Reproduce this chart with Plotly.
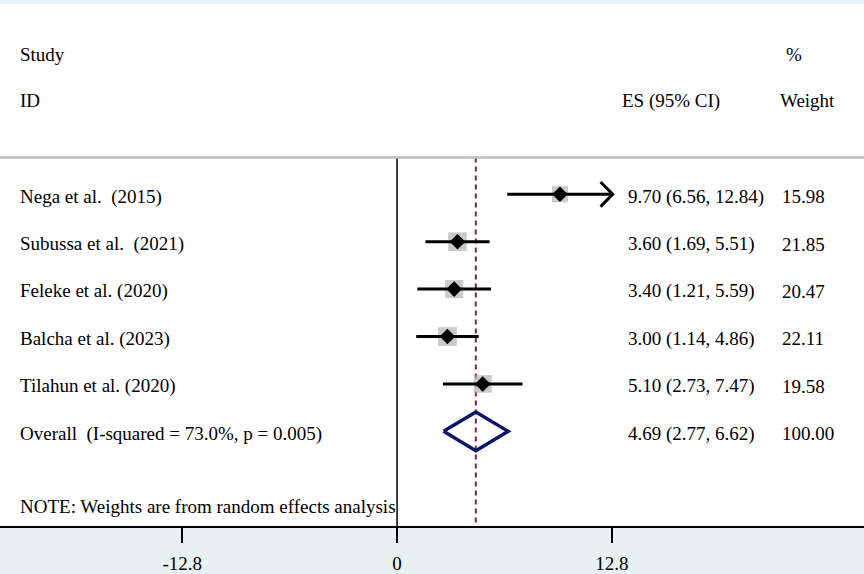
import plotly.graph_objects as go
import math

studies = ["Nega et al.&nbsp; (2015)", "Subussa et al.&nbsp; (2021)", "Feleke et al. (2020)",
           "Balcha et al. (2023)", "Tilahun et al. (2020)"]
es = [9.70, 3.60, 3.40, 3.00, 5.10]
lo = [6.56, 1.69, 1.21, 1.14, 2.73]
hi = [12.84, 5.51, 5.59, 4.86, 7.47]
weights = [15.98, 21.85, 20.47, 22.11, 19.58]
overall_es, overall_lo, overall_hi = 4.69, 2.77, 6.62
overall_label = "Overall&nbsp; (I-squared = 73.0%, p = 0.005)"
note = "NOTE: Weights are from random effects analysis"
tick_vals = [-12.8, 0, 12.8]
tick_text = ["-12.8", "0", "12.8"]

FONT = "Liberation Serif, Times New Roman, serif"
rows = list(range(len(studies)))
overall_row = len(studies)
y_sep = -0.777
y_bottom = 6.996

fig = go.Figure()

# separator line
fig.add_shape(type="line", xref="paper", yref="y", x0=0, x1=1, y0=y_sep, y1=y_sep,
              line=dict(color="#bdbdbd", width=2.5))

# null line and overall line
fig.add_trace(go.Scatter(x=[0, 0], y=[y_sep, y_bottom], mode="lines",
                         line=dict(color="black", width=1.5), hoverinfo="skip", showlegend=False))
fig.add_trace(go.Scatter(x=[overall_es, overall_es], y=[y_sep, y_bottom], mode="lines",
                         line=dict(color="#8b2035", width=2, dash="5px,4px"), hoverinfo="skip", showlegend=False))

# weight boxes
fig.add_trace(go.Scatter(x=es, y=rows, mode="markers",
                         marker=dict(symbol="square", size=[4.0 * math.sqrt(w) for w in weights],
                                     color="#b4b4b4", line=dict(width=0)),
                         hoverinfo="skip", showlegend=False))

# CI lines
for i in rows:
    fig.add_trace(go.Scatter(x=[lo[i], hi[i]], y=[i, i], mode="lines",
                             line=dict(color="black", width=3), hoverinfo="skip", showlegend=False))
    if hi[i] >= 12.8:
        fig.add_trace(go.Scatter(x=[hi[i] - 0.72, hi[i], hi[i] - 0.72], y=[i - 0.26, i, i + 0.26],
                                 mode="lines", line=dict(color="black", width=3),
                                 hoverinfo="skip", showlegend=False))

# point estimates
fig.add_trace(go.Scatter(x=es, y=rows, mode="markers",
                         marker=dict(symbol="diamond", size=12, color="black"),
                         hoverinfo="skip", showlegend=False))

# overall diamond
fig.add_trace(go.Scatter(x=[overall_lo, overall_es, overall_hi, overall_es, overall_lo],
                         y=[overall_row, overall_row - 0.41, overall_row, overall_row + 0.41, overall_row],
                         mode="lines", line=dict(color="#0c1466", width=3.5),
                         hoverinfo="skip", showlegend=False))

x_lab = -22.55
x_es = 13.65
x_w = 22.8

def txt(x, y, s):
    fig.add_annotation(x=x, y=y, xref="x", yref="y", text=s, showarrow=False,
                       xanchor="left", yanchor="middle",
                       font=dict(family=FONT, size=19, color="black"))

txt(x_lab, -2.94, "Study")
txt(x_lab, -1.975, "ID")
txt(13.3, -1.975, "ES (95% CI)")
txt(x_w + 0.25, -2.94, "%")
txt(x_w - 0.1, -1.975, "Weight")

for i in rows:
    txt(x_lab, i + 0.05, studies[i])
    txt(x_es, i + 0.05, f"{es[i]:.2f} ({lo[i]:.2f}, {hi[i]:.2f})")
    txt(x_w, i + 0.05, f"{weights[i]:.2f}")

txt(x_lab, overall_row + 0.05, overall_label)
txt(x_es, overall_row + 0.05, f"{overall_es:.2f} ({overall_lo:.2f}, {overall_hi:.2f})")
txt(x_w, overall_row + 0.05, "100.00")
txt(x_lab, 6.575, note)

fig.update_layout(
    width=864, height=574,
    margin=dict(l=0, r=0, t=4, b=46),
    paper_bgcolor="#e8f0f2",
    plot_bgcolor="white",
    showlegend=False,
    xaxis=dict(range=[-23.65, 27.81], showgrid=False, zeroline=False,
               tickvals=tick_vals, ticktext=tick_text, ticks="outside", ticklen=15,
               tickwidth=2, tickcolor="black", showline=True, linecolor="black", linewidth=2,
               tickfont=dict(family=FONT, size=19, color="black"), ticklabelstandoff=4,
               fixedrange=True),
    yaxis=dict(range=[y_bottom, -4.013], showgrid=False, zeroline=False, showticklabels=False,
               showline=False, ticks="", fixedrange=True),
)

fig.write_html("out.html", config={"displayModeBar": False},
               post_script="document.body.style.margin='0';document.body.style.overflow='hidden';")
